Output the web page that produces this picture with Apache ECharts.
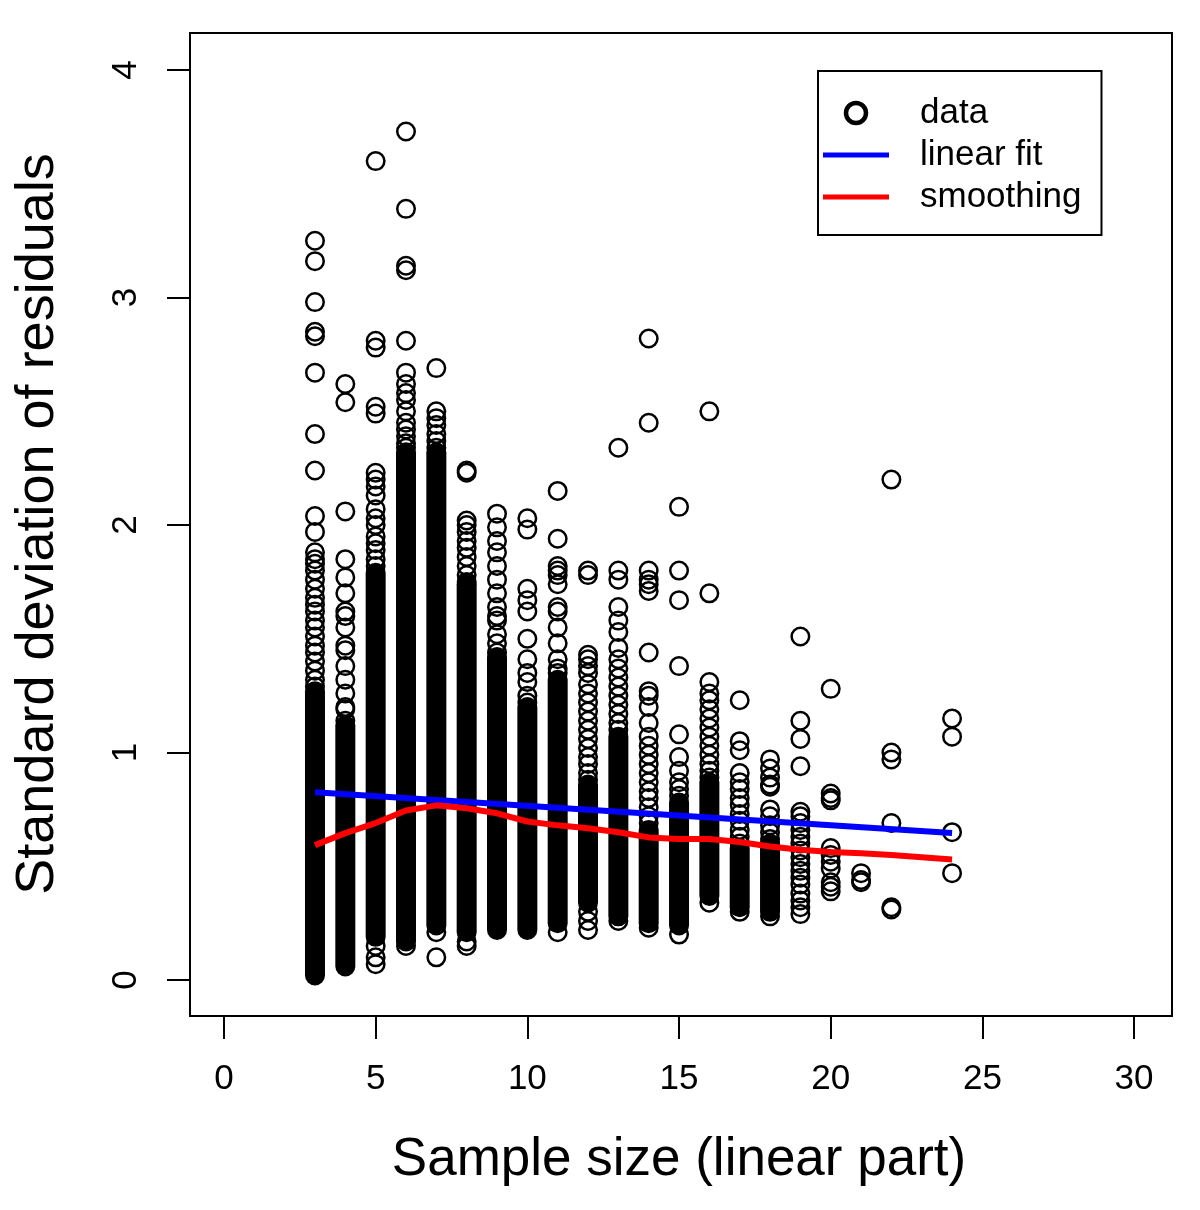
<!DOCTYPE html>
<html>
<head>
<meta charset="utf-8">
<script src="https://cdn.jsdelivr.net/npm/echarts@6/dist/echarts.min.js"></script>
<style>
html,body{margin:0;padding:0;background:#fff;}
#chart{width:1200px;height:1210px;}
</style>
</head>
<body>
<div id="chart"></div>
<script>
// ---------- data ----------
const sampleSizes = [3,4,5,6,7,8,9,10,11,12,13,14,15,16,17,18,19,20,21,22,24];
// solid (overplotted) stretches of each column: lowest and highest value
const denseLow  = [0.02,0.06,0.19,0.17,0.24,0.21,0.22,0.22,0.25,0.34,0.28,0.25,0.24,0.37,0.32,0.30,null,null,null,null,null];
const denseHigh = [1.27,1.12,1.79,2.32,2.32,1.74,1.42,1.20,1.32,0.86,1.07,0.66,0.78,0.87,0.58,0.60,null,null,null,null,null];
// individually visible circles of each column
const sdPoints = [
  [3.25,3.16,2.98,2.85,2.83,2.67,2.40,2.24,2.04,1.97,1.88,1.85,1.83,1.80,1.76,1.72,1.68,1.65,1.62,1.58,1.55,1.51,1.47,1.44,1.40,1.36,1.32,1.29],
  [2.62,2.54,2.06,1.85,1.77,1.70,1.62,1.60,1.55,1.47,1.45,1.38,1.32,1.26,1.20,1.19,1.14],
  [3.60,2.81,2.78,2.52,2.49,2.23,2.20,2.17,2.13,2.07,2.03,2.00,1.95,1.92,1.89,1.85,1.82,0.15,0.10,0.07],
  [3.73,3.39,3.14,3.12,2.81,2.67,2.62,2.58,2.55,2.50,2.45,2.42,2.39,2.36,2.34,0.15],
  [2.69,2.50,2.47,2.44,2.40,2.37,2.34,0.21,0.10],
  [2.24,2.23,2.02,2.00,1.97,1.93,1.90,1.86,1.82,1.78,1.75,0.17,0.15],
  [2.05,1.99,1.93,1.88,1.82,1.76,1.70,1.64,1.60,1.58,1.52,1.48,1.44],
  [2.03,1.98,1.72,1.67,1.62,1.50,1.41,1.35,1.31,1.25,1.22],
  [2.15,1.94,1.82,1.80,1.78,1.74,1.64,1.62,1.55,1.48,1.41,1.37,1.35,0.21],
  [1.80,1.78,1.43,1.41,1.38,1.35,1.30,1.26,1.22,1.18,1.14,1.10,1.06,1.02,0.98,0.95,0.91,0.88,0.30,0.26,0.22],
  [2.34,1.80,1.76,1.64,1.58,1.53,1.46,1.41,1.37,1.33,1.29,1.25,1.21,1.17,1.13,1.10,0.26],
  [2.82,2.45,1.80,1.76,1.74,1.71,1.44,1.27,1.25,1.20,1.13,1.07,1.03,0.99,0.95,0.91,0.87,0.83,0.80,0.76,0.72,0.69,0.23],
  [2.08,1.80,1.67,1.38,1.08,0.98,0.92,0.87,0.84,0.81,0.20],
  [2.50,1.70,1.31,1.26,1.23,1.19,1.15,1.11,1.07,1.03,0.99,0.95,0.92,0.89,0.34],
  [1.23,1.05,1.01,0.91,0.87,0.84,0.80,0.77,0.73,0.70,0.66,0.63,0.60,0.30],
  [0.97,0.93,0.89,0.86,0.85,0.75,0.72,0.68,0.65,0.62,0.28],
  [1.51,1.14,1.06,0.94,0.74,0.72,0.69,0.66,0.63,0.60,0.57,0.54,0.51,0.48,0.45,0.42,0.38,0.35,0.32,0.29],
  [1.28,0.82,0.80,0.79,0.58,0.55,0.52,0.49,0.43,0.41,0.39],
  [0.47,0.44,0.43],
  [2.20,1.00,0.97,0.69,0.32,0.31],
  [1.15,1.07,0.65,0.47]
];
const fitX = [3, 24];
const fitY = [0.826, 0.646];
const smoothX = [3,4,5,6,7,8,9,10,11,12,13,14,15,16,17,18,19,20,21,22,23,24];
const smoothY = [0.593,0.646,0.690,0.745,0.768,0.755,0.733,0.697,0.680,0.667,0.650,0.627,0.620,0.620,0.607,0.587,0.573,0.563,0.557,0.550,0.540,0.530];
const xTicks = [0,5,10,15,20,25,30];
const yTicks = [0,1,2,3,4];

// ---------- build ----------
const scatterData = [];
sampleSizes.forEach((x, i) => sdPoints[i].forEach(v => scatterData.push([x, v])));
const denseData = [];
sampleSizes.forEach((x, i) => { if (denseLow[i] != null) denseData.push([x, denseLow[i], denseHigh[i]]); });
const fitData = fitX.map((x, i) => [x, fitY[i]]);
const smoothData = smoothX.map((x, i) => [x, smoothY[i]]);

const FONT = '"Liberation Sans", Arial, Helvetica, sans-serif';
const LINE_ICON = 'path://M0 0H66V5H0Z';
const chart = echarts.init(document.getElementById('chart'), null, {renderer: 'canvas'});

chart.setOption({
  backgroundColor: '#fff',
  animation: false,
  grid: {left: 190, top: 33, right: 28, bottom: 194, show: true, borderColor: '#000', borderWidth: 2, backgroundColor: 'transparent'},
  xAxis: {
    type: 'value', min: -1.12, max: 31.25,
    axisLine: {show: false, onZero: false},
    splitLine: {show: false},
    axisTick: {show: true, inside: false, length: 23, customValues: xTicks, lineStyle: {color: '#000', width: 2}},
    axisLabel: {customValues: xTicks, margin: 46, color: '#000', fontSize: 35, fontFamily: FONT}
  },
  yAxis: {
    type: 'value', min: -0.158, max: 4.163,
    axisLine: {show: false, onZero: false},
    splitLine: {show: false},
    axisTick: {show: true, inside: false, length: 23, customValues: yTicks, lineStyle: {color: '#000', width: 2}},
    axisLabel: {customValues: yTicks, rotate: 90, margin: 46, color: '#000', fontSize: 35, fontFamily: FONT}
  },
  legend: {
    orient: 'vertical', left: 818, top: 71,
    borderColor: '#000', borderWidth: 2, backgroundColor: '#fff',
    padding: [24, 20, 20, 5],
    itemWidth: 66, itemHeight: 20, itemGap: 6,
    selectedMode: false,
    textStyle: {fontSize: 35, lineHeight: 36, color: '#000', fontFamily: FONT, padding: [0, 0, 0, 26]},
    data: [
      {name: 'data', icon: 'circle', itemStyle: {color: '#fff', borderColor: '#000', borderWidth: 4.5}},
      {name: 'linear fit', icon: LINE_ICON, itemStyle: {color: '#0000ff'}},
      {name: 'smoothing', icon: LINE_ICON, itemStyle: {color: '#ff0000'}}
    ]
  },
  graphic: [
    {type: 'text', x: 679, y: 1160, style: {text: 'Sample size (linear part)', font: '53px ' + FONT, fill: '#000', align: 'center', verticalAlign: 'middle'}},
    {type: 'text', x: 38, y: 524, rotation: Math.PI / 2, style: {text: 'Standard deviation of residuals', font: '54px ' + FONT, fill: '#000', align: 'center', verticalAlign: 'middle'}}
  ],
  series: [
    {
      name: 'dataDense', type: 'custom', z: 2,
      data: denseData,
      encode: {x: 0, y: [1, 2]},
      renderItem: function (params, api) {
        const x = api.value(0), lo = api.value(1), hi = api.value(2);
        const pHi = api.coord([x, hi]);
        const pLo = api.coord([x, lo]);
        const r = 10;
        return {type: 'rect', shape: {x: pHi[0] - r, y: pHi[1] - r, width: 2 * r, height: pLo[1] - pHi[1] + 2 * r, r: r}, style: {fill: '#000'}};
      }
    },
    {
      name: 'data', type: 'scatter', z: 2,
      data: scatterData,
      symbol: 'circle', symbolSize: 17.5,
      itemStyle: {color: 'rgba(0,0,0,0)', borderColor: '#000', borderWidth: 2.5, opacity: 1},
      emphasis: {disabled: true}
    },
    {
      name: 'linear fit', type: 'line', z: 3,
      data: fitData, symbol: 'none',
      lineStyle: {color: '#0000ff', width: 6},
      itemStyle: {color: '#0000ff'}
    },
    {
      name: 'smoothing', type: 'line', z: 4,
      data: smoothData, symbol: 'none', smooth: false,
      lineStyle: {color: '#ff0000', width: 6},
      itemStyle: {color: '#ff0000'}
    }
  ]
});
</script>
</body>
</html>
